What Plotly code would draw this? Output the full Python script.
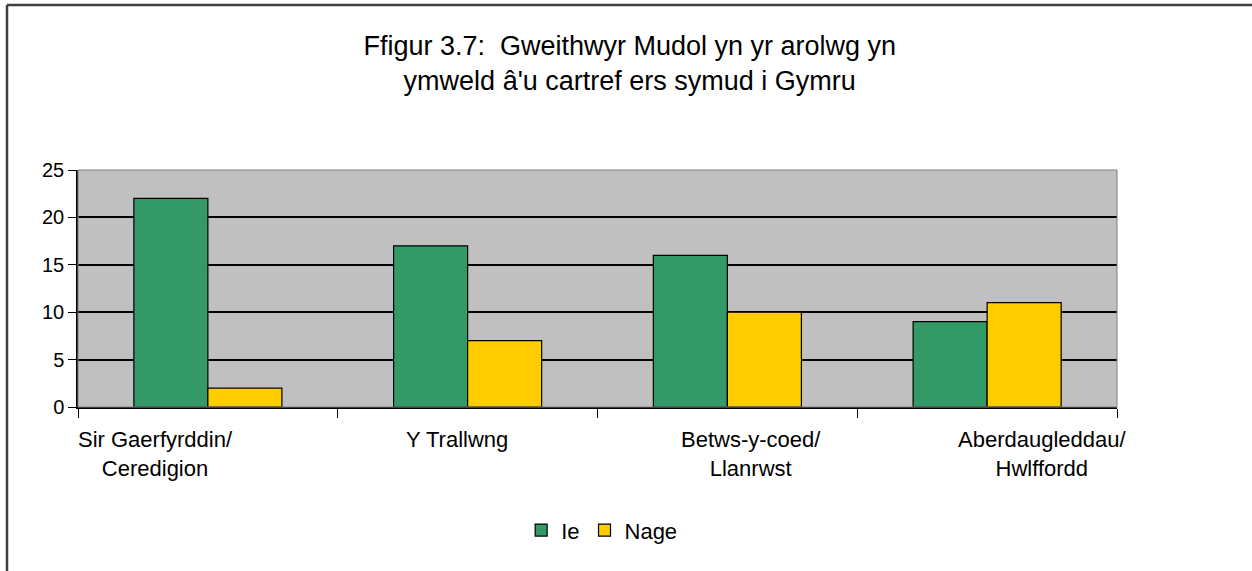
import plotly.graph_objects as go

# Data
ardaloedd = ['Sir Gaerfyrddin/<br>Ceredigion', 'Y Trallwng', 'Betws-y-coed/<br>Llanrwst',
             'Aberdaugleddau/<br>Hwlffordd']
ie = [22, 17, 16, 9]
nage = [2, 7, 10, 11]
yticks = [0, 5, 10, 15, 20, 25]
# small horizontal shift of each label, as in the original Excel layout
label_shift = [-0.2, -0.04, 0.09, 0.21]

FONT = 'Liberation Sans, Arial, sans-serif'

fig = go.Figure()
fig.add_trace(go.Bar(x=list(range(len(ardaloedd))), y=ie, name='Ie',
                     marker=dict(color='#339966', line=dict(color='black', width=1.2))))
fig.add_trace(go.Bar(x=list(range(len(ardaloedd))), y=nage, name='Nage',
                     marker=dict(color='#FFCC00', line=dict(color='black', width=1.2))))

# category labels below the axis
for i, lab in enumerate(ardaloedd):
    fig.add_annotation(x=i + label_shift[i], xref='x', y=-0.075, yref='paper',
                       text=lab, showarrow=False, yanchor='top',
                       font=dict(family=FONT, size=22, color='black'))

# gray plot border (top / right), axes drawn in black on top
fig.add_shape(type='rect', xref='paper', yref='paper', x0=0, x1=1, y0=0, y1=1,
              line=dict(color='#808080', width=1), layer='above')
# outer frame lines (top and left of the chart box)
top = (407 - 5) / 237
left = (7 - 78) / 1039
fig.add_shape(type='line', xref='paper', yref='paper', x0=left, x1=1.14,
              y0=top, y1=top, line=dict(color='#404040', width=2.5))
fig.add_shape(type='line', xref='paper', yref='paper', x0=left, x1=left,
              y0=-0.8, y1=top, line=dict(color='#404040', width=2.5))

fig.update_layout(
    width=1252, height=571,
    margin=dict(l=78, r=135, t=170, b=164),
    paper_bgcolor='white', plot_bgcolor='#C0C0C0',
    barmode='group', bargap=0.43, bargroupgap=0,
    font=dict(family=FONT, size=20, color='black'),
    title=dict(text='Ffigur 3.7:\u00a0 Gweithwyr Mudol yn yr arolwg yn<br>ymweld â\'u cartref ers symud i Gymru',
               x=0.503, xref='container', xanchor='center', y=0.903, yref='container', yanchor='middle',
               font=dict(family=FONT, size=27, color='black')),
    legend=dict(orientation='h', x=0.504, xanchor='center', y=-0.52, yanchor='middle',
                font=dict(family=FONT, size=22), itemwidth=30, traceorder='normal'),
    showlegend=True,
)
fig.update_xaxes(type='category', tickmode='array', tickvals=list(range(len(ardaloedd))),
                 ticktext=[''] * len(ardaloedd), tickson='boundaries', ticks='outside',
                 ticklen=9, tickcolor='black', showline=True, linecolor='black', linewidth=1.5,
                 showgrid=False, range=[-0.5, 3.5])
fig.update_yaxes(range=[0, 25], tickvals=yticks, ticks='outside', ticklen=8, tickcolor='black',
                 showline=True, linecolor='black', linewidth=1.5, gridcolor='black', gridwidth=1.5,
                 zeroline=False, tickfont=dict(size=20))

fig.write_html('out.html', config={'displayModeBar': False},
               post_script="document.body.style.margin='0';")
